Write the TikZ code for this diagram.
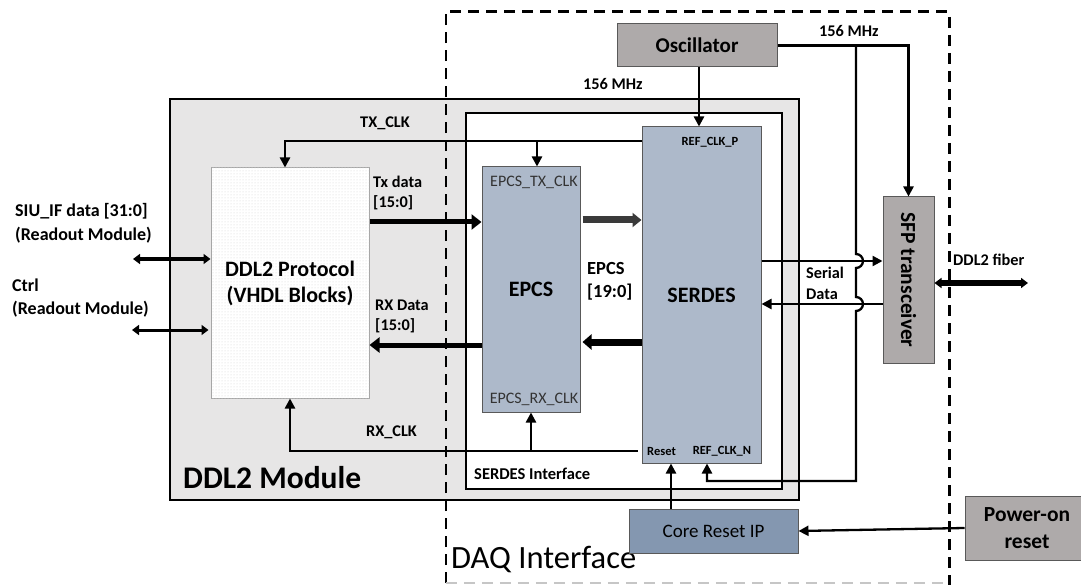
\documentclass[tikz,border=0pt]{standalone}
\usepackage{fontspec}
\setmainfont{Carlito}
\usetikzlibrary{arrows.meta,patterns}
\definecolor{ddlStone}{HTML}{AEAAAA}
\definecolor{ddlSteel}{HTML}{ADB9CA}
\definecolor{ddlReset}{HTML}{8497B0}
\definecolor{ddlPanel}{HTML}{E7E6E6}
\definecolor{ddlEdge}{HTML}{595959}
\definecolor{ddlInk}{HTML}{333333}
\definecolor{ddlBus}{HTML}{3A3A3A}
\tikzset{
  ddl frame/.style={draw=black, line width=2pt, inner sep=0pt},
  ddl dash/.style={draw=black, line width=2.6pt, dash pattern=on 11pt off 7pt},
  ddl block/.style={draw=ddlEdge, line width=1pt, inner sep=0pt, align=center, font=\fontsize{22}{26}\selectfont\bfseries},
  ddl title/.style={font=\fontsize{31.5}{34}\selectfont\bfseries, inner sep=0pt, anchor=west},
  ddl label/.style={font=\fontsize{16.3}{20.5}\selectfont\bfseries, inner sep=0pt, anchor=west, align=left},
  ddl port/.style={font=\fontsize{12.5}{14}\selectfont\bfseries, inner sep=0pt},
  ddl pin/.style={font=\fontsize{16}{18}\selectfont, text=ddlInk, inner sep=0pt},
  ddl clk/.style={draw=black, line width=2.3pt, -{Triangle[length=10pt,width=10pt]}},
  ddl bus/.style={draw=black, line width=5pt, -{Triangle[length=10pt,width=15pt]}},
  ddl io/.style={draw=black, line width=3.5pt, {Triangle[length=7pt,width=10pt]}-{Triangle[length=7pt,width=10pt]}},
}

\begin{document}
\begin{tikzpicture}[x=1pt, y=-1pt]
  \useasboundingbox (0,0) rectangle (1081,585);
  % Panels
  \node[ddl frame, fill=ddlPanel, minimum width=629pt, minimum height=401pt] (module) at (484.5,299.5) {};
  \node[ddl frame, fill=white, minimum width=316pt, minimum height=376pt] (serif) at (624,301) {};
  \node[inner sep=0pt, minimum width=503pt, minimum height=571pt] (daq) at (697.5,297.5) {};
  \draw[ddl dash] (daq.south west) -- (daq.north west) -- (daq.north east) -- ([yshift=-3pt]daq.south east);
  \draw[ddl dash, draw=gray!45, line width=1.6pt] (daq.south west) -- (daq.south east);
  \node[ddl title] (moduletitle) at (183,478) {DDL2 Module};
  \node[ddl title, font=\fontsize{32.5}{34}\selectfont] (daqtitle) at (451,560) {DAQ Interface};
  \node[ddl label, font=\fontsize{16.5}{18}\selectfont\bfseries] (seriftitle) at (474,474) {SERDES Interface};

  % Blocks
  \node[ddl block, fill=ddlStone, minimum width=160pt, minimum height=43pt, font=\fontsize{21}{24}\selectfont\bfseries] (osc) at (697,45.5) {Oscillator};
  \node[ddl block, fill=ddlSteel, minimum width=119pt, minimum height=336pt] (serdes) at (701.5,295) {SERDES};
  \node[ddl block, fill=ddlSteel, minimum width=98pt, minimum height=245pt] (epcs) at (531,289.5) {EPCS};
  \node[ddl block, draw=gray!70, fill=white, postaction={pattern=dots, pattern color=gray!35}, minimum width=158pt, minimum height=230pt] (ddl) at (290,283) {DDL2 Protocol\\(VHDL Blocks)};
  \node[ddl block, fill=ddlStone, minimum width=51pt, minimum height=166pt] (sfp) at (908.5,280) {};
  \node[rotate=-90, font=\fontsize{21.5}{24}\selectfont\bfseries, inner sep=0pt] (sfptext) at (sfp.center) {SFP transceiver};
  \node[ddl block, fill=ddlReset, minimum width=169pt, minimum height=44pt, font=\fontsize{19}{22}\selectfont] (corereset) at (713.5,531) {Core Reset IP};
  \node[ddl block, fill=ddlStone, minimum width=124pt, minimum height=64pt, font=\fontsize{21.5}{27}\selectfont\bfseries] (poweron) at (1027,528) {Power-on\\reset};

  % Pin names
  \node[ddl port] (refp) at (710,142) {REF\_CLK\_P};
  \node[ddl port, anchor=west] (resetpin) at (647,451) {Reset};
  \node[ddl port] (refn) at (722,451) {REF\_CLK\_N};
  \node[ddl pin] (epcstx) at (534,182) {EPCS\_TX\_CLK};
  \node[ddl pin] (epcsrx) at (534,399) {EPCS\_RX\_CLK};

  % Clocks
  \draw[ddl clk] ([xshift=2pt]osc.south) -- ([xshift=2pt]osc.south |- serdes.north);
  \draw[ddl clk] (osc.east) -| (sfp.north);
  \coordinate (clkfork) at (856,45.5);
  \draw[ddl clk] (clkfork) -- (856,254) arc[start angle=-90, end angle=90, radius=7]
    -- (856,297) arc[start angle=-90, end angle=90, radius=7]
    -- (856,481) -| ([xshift=-15pt]refn.south |- serdes.south);
  \coordinate (txclk) at ([yshift=154pt]serdes.west);
  \draw[ddl clk] (txclk) -| ([xshift=-5pt]ddl.north);
  \draw[ddl clk] ([xshift=6pt]epcs.north |- txclk) -- ([xshift=6pt]epcs.north);
  \coordinate (rxclk) at ([xshift=-4pt,yshift=-156pt]serdes.west);
  \draw[ddl clk] (rxclk) -| (ddl.south);
  \draw[ddl clk] (epcs.south |- rxclk) -- (epcs.south);
  \draw[ddl clk] ([xshift=-42.5pt]corereset.north) -- ([xshift=-42.5pt]corereset.north |- serdes.south);
  \draw[ddl clk] (poweron.west) -- (corereset.east);

  % Serial data
  \draw[ddl clk] ([yshift=34pt]serdes.east) -- ([yshift=34pt]serdes.east -| sfp.west);
  \draw[ddl clk] ([yshift=-24pt]sfp.west) -- ([yshift=-24pt]sfp.west -| serdes.east);

  % Parallel data
  \draw[ddl bus] ([yshift=61pt]ddl.east) -- ([yshift=61pt]ddl.east -| epcs.west);
  \draw[ddl bus, draw=ddlBus, line width=7pt, -{Triangle[length=9pt,width=14pt]}] ([xshift=2pt,yshift=69.5pt]epcs.east) -- ([yshift=69.5pt]epcs.east -| serdes.west);
  \draw[ddl bus, line width=7pt, -{Triangle[length=9pt,width=15pt]}] ([yshift=-47pt]serdes.west) -- ([xshift=2pt,yshift=-47pt]serdes.west -| epcs.east);
  \draw[ddl bus] ([yshift=-55.5pt]epcs.west) -- ([yshift=-55.5pt]epcs.west -| ddl.east);

  % External ports
  \coordinate (siuend) at (133,259);
  \coordinate (ctrlend) at (132,330);
  \coordinate (fiberend) at (1028,283);
  \draw[ddl io] (siuend) -- (ddl.west |- siuend);
  \draw[ddl io, line width=3pt] (ctrlend) -- ([xshift=-2pt]ddl.west |- ctrlend);
  \draw[ddl io, line width=5.5pt] ([yshift=-3pt]sfp.east) -- (fiberend);

  % Labels
  \node[ddl label] (oscmhz) at (583,84) {156 MHz};
  \node[ddl label] (sfpmhz) at (819,31) {156 MHz};
  \node[ddl label] (txclklbl) at (360,123) {TX\_CLK};
  \node[ddl label] (rxclklbl) at (366,432) {RX\_CLK};
  \node[ddl label] (txdatalbl) at (373,193) {Tx data\\{[15:0]}};
  \node[ddl label] (rxdatalbl) at (375,316.5) {RX Data\\{[15:0]}};
  \node[ddl label, font=\fontsize{18.5}{23}\selectfont\bfseries] (epcsbus) at (587,281.5) {EPCS\\{[19:0]}};
  \node[ddl label] (seriallbl) at (806,283.5) {Serial\\Data};
  \node[ddl label] (fiberlbl) at (953,260) {DDL2 fiber};
  \node[ddl label, font=\fontsize{18}{23.5}\selectfont\bfseries] (siulbl) at (15,223.5) {SIU\_IF data [31:0]\\(Readout Module)};
  \node[ddl label, font=\fontsize{18}{23.5}\selectfont\bfseries] (ctrllbl) at (12,298) {Ctrl\\(Readout Module)};
\end{tikzpicture}
\end{document}
